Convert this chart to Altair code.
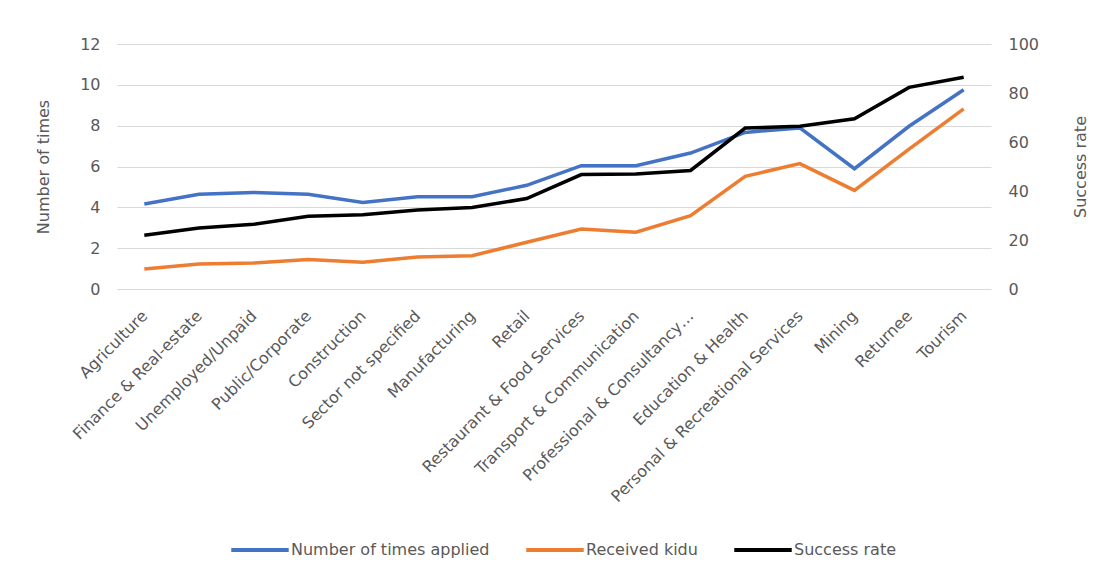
import altair as alt
import pandas as pd

categories = [
    "Agriculture", "Finance & Real-estate", "Unemployed/Unpaid", "Public/Corporate",
    "Construction", "Sector not specified", "Manufacturing", "Retail",
    "Restaurant & Food Services", "Transport & Communication",
    "Professional & Consultancy…", "Education & Health",
    "Personal & Recreational Services", "Mining", "Returnee", "Tourism",
]
times_applied = [4.16, 4.64, 4.73, 4.64, 4.24, 4.52, 4.52, 5.08,
                 6.04, 6.04, 6.66, 7.67, 7.89, 5.89, 7.97, 9.76]
received_kidu = [0.98, 1.22, 1.27, 1.45, 1.31, 1.57, 1.63, 2.29,
                 2.94, 2.78, 3.59, 5.52, 6.14, 4.83, 6.85, 8.82]
success_rate = [21.9, 24.9, 26.4, 29.7, 30.3, 32.2, 33.3, 36.9,
                46.7, 46.9, 48.4, 65.7, 66.4, 69.5, 82.3, 86.4]

series_names = ["Number of times applied", "Received kidu", "Success rate"]
series_colors = ["#4472C4", "#ED7D31", "#000000"]

df = pd.DataFrame({
    "Category": categories,
    "Number of times applied": times_applied,
    "Received kidu": received_kidu,
    "Success rate": success_rate,
})

FONT = "DejaVu Sans"
TXT = "#595959"
FS = 16

x_enc = alt.X(
    "Category:N", sort=None, title=None,
    axis=alt.Axis(labelAngle=-45, labelAlign="right", labelBaseline="middle",
                  domain=False, ticks=False, labelPadding=24, labelLimit=400,
                  labelFontSize=FS, labelColor=TXT, labelFont=FONT),
)

color_enc = alt.Color(
    "Series:N",
    scale=alt.Scale(domain=series_names, range=series_colors),
    legend=alt.Legend(
        title=None, orient="none", direction="horizontal",
        legendX=112, legendY=475,
        symbolType="stroke", symbolStrokeWidth=4, symbolSize=3300,
        labelFontSize=FS, labelColor=TXT, labelFont=FONT, labelLimit=400,
        labelOffset=0, columnPadding=28,
    ),
)

left = alt.Chart(df).transform_fold(
    ["Number of times applied", "Received kidu"], as_=["Series", "Value"]
).mark_line(strokeWidth=3.5).encode(
    x=x_enc,
    y=alt.Y("Value:Q", scale=alt.Scale(domain=[0, 12]),
            axis=alt.Axis(values=[0, 2, 4, 6, 8, 10, 12], title="Number of times",
                          domain=False, ticks=False, labelPadding=17,
                          titlePadding=28, grid=True, gridColor="#D9D9D9",
                          gridWidth=1.2)),
    color=color_enc,
)

right = alt.Chart(df).transform_fold(
    ["Success rate"], as_=["Series", "Value"]
).mark_line(strokeWidth=3.5).encode(
    x=x_enc,
    y=alt.Y("Value:Q", scale=alt.Scale(domain=[0, 100]),
            axis=alt.Axis(values=[0, 20, 40, 60, 80, 100], title="Success rate",
                          orient="right", domain=False, ticks=False, titleAngle=270,
                          labelPadding=17, titlePadding=50, grid=False)),
    color=color_enc,
)

chart = alt.layer(left, right).resolve_scale(y="independent").properties(
    width=874, height=245,
    background="white",
    padding={"left": 27, "top": 28, "right": 4, "bottom": 10},
).configure_view(stroke=None).configure_axis(
    labelFont=FONT, labelFontSize=FS, labelColor=TXT,
    titleFont=FONT, titleFontSize=FS, titleColor=TXT, titleFontWeight="normal",
)

chart.save("out.html", embed_options={"renderer": "svg", "actions": False})
